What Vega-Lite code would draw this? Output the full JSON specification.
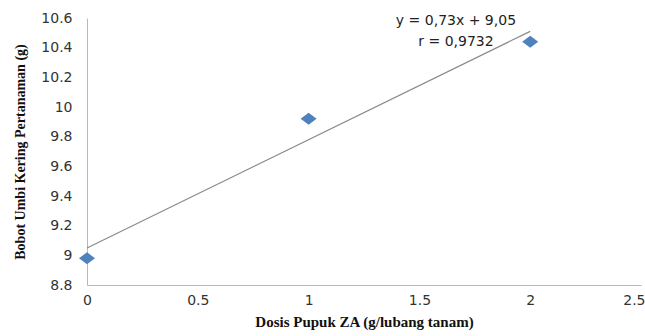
{
  "$schema": "https://vega.github.io/schema/vega-lite/v6.json",
  "autosize": {"type": "none"},
  "width": 554,
  "height": 267,
  "padding": {"left": 87, "top": 18, "right": 4, "bottom": 51},
  "background": "white",
  "config": {"view": {"stroke": null}},
  "data": {"values": [
    {"dosis": 0, "bobot": 8.98},
    {"dosis": 1, "bobot": 9.92},
    {"dosis": 2, "bobot": 10.44}
  ]},
  "encoding": {
    "x": {
      "field": "dosis", "type": "quantitative",
      "scale": {"domain": [0, 2.5], "nice": false},
      "axis": {
        "values": [0, 0.5, 1, 1.5, 2, 2.5], "format": "~f", "grid": false,
        "ticks": false, "domainColor": "#b8b8b8", "labelFont": "DejaVu Sans", "labelFontSize": 14,
        "labelColor": "#333", "labelPadding": 8, "labelFlush": false, "labelOverlap": false, "labelBound": false,
        "labelAlign": {"condition": {"test": "datum.value == 2.5", "value": "right"}, "value": "center"},
        "labelOffset": {"condition": {"test": "datum.value == 2.5", "value": 4}, "value": 0},
        "title": "Dosis Pupuk ZA (g/lubang tanam)", "titleFont": "Liberation Serif",
        "titleFontSize": 15, "titleFontWeight": "bold", "titleColor": "#111", "titlePadding": 7
      }
    },
    "y": {
      "field": "bobot", "type": "quantitative",
      "scale": {"domain": [8.8, 10.6], "nice": false, "zero": false},
      "axis": {
        "values": [8.8, 9, 9.2, 9.4, 9.6, 9.8, 10, 10.2, 10.4, 10.6], "format": "~f", "grid": false,
        "ticks": false, "domainColor": "#b8b8b8", "labelFont": "DejaVu Sans", "labelFontSize": 14,
        "labelColor": "#333", "labelPadding": 15, "labelOverlap": false, "labelFlush": false, "labelBound": false,
        "title": "Bobot Umbi Kering Pertanaman (g)", "titleFont": "Liberation Serif",
        "titleFontSize": 14, "titleFontWeight": "bold", "titleColor": "#111", "titlePadding": 13
      }
    }
  },
  "layer": [
    {
      "transform": [{"regression": "bobot", "on": "dosis", "extent": [0, 2]}],
      "mark": {"type": "line", "color": "#8a8a8a", "strokeWidth": 1.2}
    },
    {
      "mark": {"type": "point", "shape": "M-1,0L0,-0.75L1,0L0,0.75Z", "filled": true, "color": "#4F81BD", "size": 256, "opacity": 1}
    },
    {
      "data": {"values": [
        {"dosis": 1.665, "bobot": 10.578, "label": "y = 0,73x + 9,05"},
        {"dosis": 1.665, "bobot": 10.435, "label": "r = 0,9732"}
      ]},
      "mark": {"type": "text", "font": "DejaVu Sans", "fontSize": 14, "color": "#222", "align": "center", "baseline": "middle"},
      "encoding": {
        "text": {"field": "label"}
      }
    }
  ]
}
